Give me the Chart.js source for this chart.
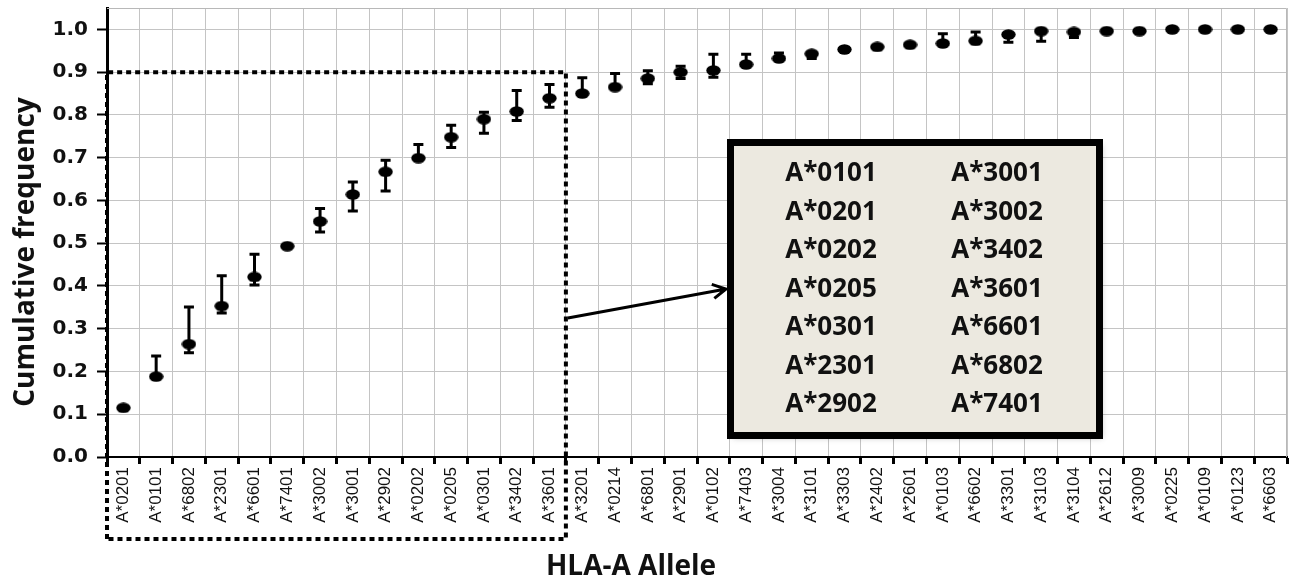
<!DOCTYPE html>
<html>
<head>
<meta charset="utf-8">
<title>HLA-A allele cumulative frequency</title>
<script src="https://cdn.jsdelivr.net/npm/chart.js@4.4.1/dist/chart.umd.min.js"></script>
<style>
  html, body { margin: 0; padding: 0; background: #fff; }
  #wrap { width: 1295px; height: 586px; position: relative; }
</style>
</head>
<body>
<div id="wrap"><canvas id="freqChart"></canvas></div>
<script>
// alleles in the order they are plotted
const alleles = [
  "A*0201", "A*0101", "A*6802", "A*2301", "A*6601", "A*7401", "A*3002", "A*3001",
  "A*2902", "A*0202", "A*0205", "A*0301", "A*3402", "A*3601", "A*3201", "A*0214",
  "A*6801", "A*2901", "A*0102", "A*7403", "A*3004", "A*3101", "A*3303", "A*2402",
  "A*2601", "A*0103", "A*6602", "A*3301", "A*3103", "A*3104", "A*2612", "A*3009",
  "A*0225", "A*0109", "A*0123", "A*6603"
];
// mean cumulative frequency
const cumFreq = [
  0.115, 0.188, 0.264, 0.353, 0.421, 0.493, 0.551, 0.614,
  0.667, 0.699, 0.748, 0.790, 0.808, 0.839, 0.850, 0.865,
  0.885, 0.900, 0.904, 0.918, 0.932, 0.943, 0.953, 0.959,
  0.964, 0.967, 0.973, 0.988, 0.996, 0.994, 0.996, 0.996,
  1.0, 1.0, 1.0, 1.0
];
// error bar ends (null = no bar on that side)
const errHigh = [
  null, 0.236, 0.351, 0.424, 0.474, null, 0.581, 0.643,
  0.694, 0.731, 0.776, 0.806, 0.857, 0.871, 0.887, 0.897,
  0.903, 0.914, 0.942, 0.942, 0.945, null, null, null,
  null, 0.990, 0.994, null, null, null, null, null,
  null, null, null, null
];
const errLow = [
  null, null, 0.244, 0.337, 0.402, null, 0.526, 0.575,
  0.622, null, 0.724, 0.757, 0.787, 0.818, null, null,
  0.873, 0.885, 0.888, null, null, 0.932, null, null,
  null, null, null, 0.970, 0.972, 0.981, null, null,
  null, null, null, null
];
const yTicks = [0, 0.1, 0.2, 0.3, 0.4, 0.5, 0.6, 0.7, 0.8, 0.9, 1.0];
const cutoff = 0.9;       // top of the dotted box
const boxedCount = 14;    // alleles inside the dotted box
// alleles listed in the annotation box (two columns)
const boxColLeft = ["A*0101", "A*0201", "A*0202", "A*0205", "A*0301", "A*2301", "A*2902"];
const boxColRight = ["A*3001", "A*3002", "A*3402", "A*3601", "A*6601", "A*6802", "A*7401"];

// ellipse marker
const dot = document.createElement("canvas");
dot.width = 15; dot.height = 11;
(function () {
  const c = dot.getContext("2d");
  c.fillStyle = "#000";
  c.beginPath();
  c.ellipse(7.5, 5.5, 7.2, 5.2, 0, 0, Math.PI * 2);
  c.fill();
})();

const errorBars = {
  id: "errorBars",
  beforeDatasetsDraw(chart) {
    const ctx = chart.ctx, x = chart.scales.x, y = chart.scales.y;
    ctx.save();
    ctx.strokeStyle = "#000";
    ctx.lineWidth = 3;
    cumFreq.forEach((v, i) => {
      const px = x.getPixelForValue(i);
      [errHigh[i], errLow[i]].forEach(end => {
        if (end === null) return;
        const py = y.getPixelForValue(end);
        ctx.beginPath();
        ctx.moveTo(px, y.getPixelForValue(v));
        ctx.lineTo(px, py);
        ctx.moveTo(px - 5, py);
        ctx.lineTo(px + 5, py);
        ctx.stroke();
      });
    });
    ctx.restore();
  },
  afterDraw(chart) {
    const ctx = chart.ctx, x = chart.scales.x, y = chart.scales.y;
    const area = chart.chartArea;
    ctx.save();
    // top and right frame
    ctx.strokeStyle = "#b8b8b8";
    ctx.lineWidth = 1;
    ctx.beginPath();
    ctx.moveTo(area.left, area.top + 0.5);
    ctx.lineTo(area.right - 0.5, area.top + 0.5);
    ctx.lineTo(area.right - 0.5, area.bottom);
    ctx.stroke();

    // dotted box round the first alleles
    const half = (x.getPixelForValue(1) - x.getPixelForValue(0)) / 2;
    const bx = x.getPixelForValue(boxedCount - 1) + half;
    const by = y.getPixelForValue(cutoff);
    const bottom = 539;
    ctx.strokeStyle = "#000";
    ctx.lineWidth = 4;
    ctx.setLineDash([5, 4]);
    ctx.beginPath();
    ctx.moveTo(area.left, bottom);
    ctx.lineTo(area.left, by);
    ctx.lineTo(bx, by);
    ctx.lineTo(bx, bottom);
    ctx.lineTo(area.left, bottom);
    ctx.stroke();
    ctx.setLineDash([]);

    // arrow to the list box
    const ax0 = bx + 2, ay0 = 318, ax1 = 726, ay1 = 289;
    ctx.lineWidth = 3;
    ctx.beginPath();
    ctx.moveTo(ax0, ay0);
    ctx.lineTo(ax1, ay1);
    const ang = Math.atan2(ay1 - ay0, ax1 - ax0);
    ctx.moveTo(ax1 - 15 * Math.cos(ang - 0.5), ay1 - 15 * Math.sin(ang - 0.5));
    ctx.lineTo(ax1, ay1);
    ctx.lineTo(ax1 - 15 * Math.cos(ang + 0.5), ay1 - 15 * Math.sin(ang + 0.5));
    ctx.stroke();

    // list box
    ctx.shadowColor = "rgba(0,0,0,0.25)";
    ctx.shadowBlur = 6;
    ctx.shadowOffsetX = 2;
    ctx.shadowOffsetY = 2;
    ctx.fillStyle = "#ece9e0";
    ctx.fillRect(730.5, 142.5, 369, 293);
    ctx.shadowColor = "transparent";
    ctx.lineWidth = 7;
    ctx.strokeRect(730.5, 142.5, 369, 293);
    ctx.fillStyle = "#111";
    ctx.font = "bold 26px 'Open Sans'";
    ctx.textAlign = "center";
    ctx.textBaseline = "middle";
    boxColLeft.forEach((t, i) => ctx.fillText(t, 831, 174 + i * 38.5));
    boxColRight.forEach((t, i) => ctx.fillText(t, 997, 174 + i * 38.5));

    // axis titles
    ctx.font = "bold 28px 'Open Sans'";
    ctx.fillText("HLA-A Allele", 631, 567);
    ctx.translate(26, 252);
    ctx.rotate(-Math.PI / 2);
    ctx.fillText("Cumulative frequency", 0, 0);
    ctx.restore();
  }
};

const ctx = document.getElementById("freqChart");
new Chart(ctx, {
  type: "line",
  data: {
    labels: alleles,
    datasets: [
      {
        label: "Cumulative frequency",
        data: cumFreq,
        showLine: false,
        pointStyle: dot,
        pointRadius: 7,
        pointHoverRadius: 7,
      },
    ],
  },
  options: {
    responsive: true,
    maintainAspectRatio: false,
    animation: false,
    layout: { padding: { top: 8, right: 5, left: 0, bottom: 0 } },
    plugins: { legend: { display: false }, tooltip: { enabled: false } },
    scales: {
      x: {
        type: "category",
        offset: true,
        afterFit: s => { s.height = 129; s.paddingLeft = 0; s.paddingRight = 0; },
        grid: {
          offset: true,
          color: "#c4c4c4",
          lineWidth: 1,
          tickColor: "#000",
          tickLength: 7,
          tickWidth: 3,
        },
        border: { color: "#000", width: 2 },
        ticks: {
          autoSkip: false,
          minRotation: 90,
          maxRotation: 90,
          padding: 3,
          color: "#111",
          font: { family: "'Liberation Sans', Arial, sans-serif", size: 17 },
        },
      },
      y: {
        min: 0,
        max: 1.05,
        afterFit: s => { s.width = 107; s.paddingTop = 0; s.paddingBottom = 0; },
        afterBuildTicks: s => {
          s.ticks = yTicks.map(v => ({ value: v }));
        },
        grid: {
          color: "#c4c4c4",
          lineWidth: 1,
          tickColor: "#000",
          tickLength: 10,
          tickWidth: 2,
        },
        border: { color: "#000", width: 3 },
        ticks: {
          padding: 9,
          color: "#111",
          font: { family: "'DejaVu Sans', Verdana, sans-serif", size: 20, weight: "bold" },
          callback: v => Number(v).toFixed(1),
        },
      },
    },
  },
  plugins: [errorBars],
});
</script>
</body>
</html>
